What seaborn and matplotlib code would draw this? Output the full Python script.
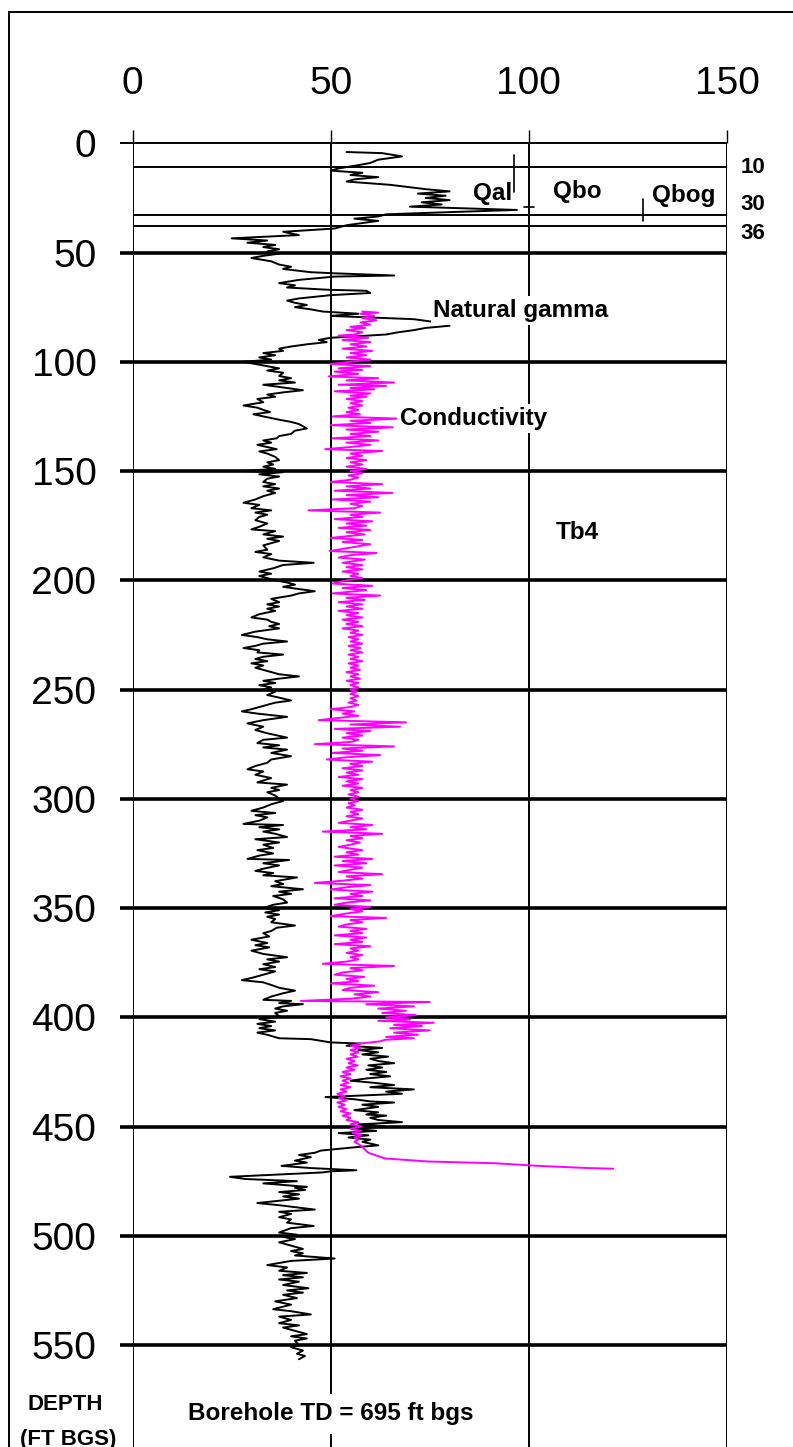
import matplotlib
matplotlib.use("Agg")
import matplotlib.pyplot as plt
from matplotlib.lines import Line2D
import seaborn as sns
import pandas as pd

# ---------------- data ----------------
# natural gamma log: (depth ft bgs, value)
gamma_log = [
    (4.0, 54), (4.5, 63), (6, 68), (7.5, 62), (9, 60), (10, 57), (11.5, 52), (12.5, 50),
    (13.5, 58), (14.5, 55), (15.5, 62), (16.5, 56), (17.5, 54), (19, 65), (21, 74), (22, 80),
    (23, 72), (24, 79), (25, 74), (26, 80), (27, 73), (28, 78), (29, 70), (30.5, 97),
    (31.5, 80), (32.5, 64), (33.5, 62), (34.5, 56), (35.5, 62), (36.5, 58), (37.5, 54),
    (39, 51), (40.5, 38), (42, 42), (43.5, 25), (44.5, 34), (45.5, 29), (46.5, 36),
    (47.5, 33), (48.5, 37), (49.5, 34), (50.5, 37), (51.5, 33),
    (52.5, 30), (54, 35), (55.5, 37), (56.5, 40), (57.5, 38), (59, 45), (59.5, 51),
    (60.5, 66), (61, 51), (62.5, 42), (64, 37), (65, 41), (66, 39), (67, 49), (67.5, 59),
    (68.5, 60), (69.5, 50), (71, 42), (72, 39), (73, 41), (74, 44), (75, 41), (76, 45),
    (77, 48), (78, 57), (79, 50), (80.5, 71), (81.5, 75), (82.5, 79), (83.5, 80),
    (84.5, 74), (85.5, 71), (86.5, 67), (87.5, 64), (88.5, 55), (89, 50), (90, 47),
    (91, 49), (92, 44), (93, 40), (94, 37), (95, 38), (96, 33), (97, 36), (98, 32),
    (99, 35), (100, 28), (101, 31), (102, 34), (103, 37), (104, 34), (105, 38),
    (106.5, 37), (107.5, 40), (108.5, 37), (109.5, 41), (110.5, 33), (111.5, 37), (113, 43),
    (114, 38), (115, 34), (116, 36), (117, 31.5), (118.5, 33), (120, 28), (121, 31.5),
    (122, 33), (123, 34.7), (124, 30.5), (125, 33), (126.5, 37), (127.5, 40), (128.5, 42),
    (129.5, 43), (130.5, 44), (131.5, 41), (133, 40), (134, 37), (135, 36.4), (136, 33),
    (137, 35), (138, 31.5), (139, 34), (140, 36.4), (141, 32), (142, 34), (143.5, 36),
    (145, 37), (146, 34), (147, 35.5), (148, 33), (149, 36), (150, 28), (150.5, 38),
    (151.5, 32), (152.5, 37), (153.5, 34), (155, 33), (156, 36), (157, 33), (158, 37),
    (159, 34), (160, 36), (161.5, 33), (163, 31), (164.5, 28), (165.5, 32), (167, 30),
    (168, 35), (169, 31), (170, 34), (171, 32),
    (172.5, 31), (174, 34), (175.5, 32), (176.7, 30), (177.5, 36), (179, 33), (180, 38),
    (181, 34), (182, 37), (184, 33), (186, 34), (187, 31), (188, 35), (189.5, 33), (191, 37),
    (192, 45.7), (193, 38), (194.5, 35.5), (196, 32), (197, 35), (198, 32), (199, 34),
    (200, 36), (201, 39), (202, 41), (203, 38), (204, 42), (205, 46), (206, 42), (207, 40),
    (208.5, 35), (210, 37), (211, 34), (212, 37), (213, 34), (214, 36), (215.5, 32),
    (217, 30), (218, 34), (219, 35), (220, 37), (221, 34.5), (222, 37), (223.5, 31),
    (225, 27.6), (226, 31.5), (227, 34), (228, 39), (229, 33), (230, 31), (231, 28),
    (232, 32), (233, 31.5), (234, 38), (235, 33), (236, 31), (237, 34), (238, 30), (239, 33),
    (240, 31), (241.5, 34), (243, 37), (244, 42), (245, 37), (246, 33), (247, 36), (248, 32),
    (249, 35), (250, 33), (251, 36), (252.5, 34), (253.7, 37), (255, 40), (256, 36),
    (257.5, 33), (259, 30), (260, 27.6), (261, 31.5), (262.5, 39), (264, 33), (265.5, 29),
    (267, 33), (268.5, 31), (270, 34), (272, 39), (273, 33), (274.5, 31.5), (275.5, 37),
    (276.5, 33), (277.5, 39), (279, 35), (280.5, 40), (282, 35), (283.5, 34), (285, 31),
    (286.5, 29), (287.5, 33), (289, 31), (290.5, 35), (292.5, 31.5), (293.5, 39), (295, 35),
    (296, 37), (297, 34), (298.5, 36), (300, 37),
    (301, 38), (302.5, 35), (304, 33), (305.5, 30), (306.5, 36), (307.5, 31), (308.5, 34),
    (310, 32), (311.5, 28), (312, 38), (313, 32), (314, 37), (315, 33), (316, 36),
    (317.5, 39), (318.5, 31), (320, 37), (321, 33), (322.5, 35.5), (323.5, 31.5),
    (325, 35.5), (326, 32), (327.5, 29), (328, 39.5), (329.5, 33), (330.5, 37), (332, 33),
    (333, 31), (334, 35.5), (335, 33), (336, 41.5), (337.7, 36), (339, 38), (340, 35),
    (341.4, 43), (342.5, 37), (343.5, 40), (344.5, 35.5), (346, 38), (347.5, 39),
    (348.5, 35.5), (350, 33), (351, 37), (352, 33.5), (353, 37), (354, 34), (355, 36),
    (356.5, 35), (358, 41), (359, 36.4), (360.5, 35), (361.5, 33), (363, 34.5), (364.5, 30),
    (366, 34), (367, 31), (368, 34.5), (369.5, 30), (371, 33), (372.5, 39), (373.5, 34),
    (374.5, 37), (375.7, 33), (377, 36), (378, 32), (379, 36), (380.5, 33), (382, 30),
    (383, 27.6), (384, 33), (385.5, 35.5), (386.5, 37), (387.8, 41), (389, 38), (390.5, 35),
    (392, 33), (392.5, 40), (393.5, 37), (394, 43), (395, 38), (396, 36), (397, 39),
    (398, 36), (399.5, 37), (400.8, 32), (402, 36), (403, 31.5), (404, 35), (405, 32),
    (406, 36), (407, 31.5), (408, 34), (409.6, 37), (410, 45), (411.5, 50),
    (412, 57.5), (413, 54), (414, 63), (415, 57), (416, 62), (417, 58), (418, 64.5),
    (419, 60), (420, 62), (421, 66), (422, 59.5), (423, 63), (424, 59), (425, 64), (426, 60),
    (427, 65), (428, 59), (429, 55), (430, 61), (431, 66), (432, 60), (433, 71), (434, 64),
    (435, 68), (436.5, 48.7), (437.5, 56), (438.5, 60), (439, 66), (440, 58), (441, 62),
    (442.5, 56), (443.5, 62), (444.5, 59), (445, 64), (446, 60), (447, 62), (448, 68),
    (449, 57), (450, 64), (451, 56), (452, 61.5), (453, 52), (454, 59.5), (455, 54.5),
    (456, 60), (457, 58), (458.6, 62), (459.5, 56), (461, 47.5), (462, 46), (463, 42),
    (464, 45), (465.6, 41), (466.5, 44), (468, 37.6), (469, 45), (470, 56.5), (470.5, 50),
    (471, 48), (473, 24.6), (474, 28.4), (475, 41.5), (476, 33), (477.6, 44), (478, 41),
    (479, 43.6), (480, 37), (481, 42), (482, 38), (483, 42), (485, 31.5), (486, 37),
    (488, 46), (489, 37), (490, 40), (491.5, 37), (492.5, 40), (494, 39), (495.5, 45.7),
    (496.5, 40), (498.5, 37), (499.5, 41.5), (500.5, 38), (501.5, 41), (503, 37),
    (504.5, 40), (506, 43), (507, 40), (508, 43), (509, 41), (510.4, 51), (511.5, 40),
    (513.4, 34), (514.5, 39), (516, 37), (517, 44), (518, 38), (519, 43), (520, 37),
    (521, 42), (522.5, 38), (524, 44.4), (525, 39), (526, 43), (527, 38), (528.5, 41.5),
    (530, 36), (531.5, 40), (533.6, 35.5), (534.5, 40), (536, 45), (537, 37), (538.5, 40),
    (540, 37), (541, 42), (542, 38), (543.5, 41), (545, 44), (546, 40), (547, 44),
    (548, 41), (550, 42), (551, 40), (552.5, 43), (554, 41.5), (555, 43.5), (556.5, 42),
]

# conductivity log: (depth ft bgs, value)
conductivity_log = [
    (77, 58), (77.5, 62), (78, 57.5), (79, 61), (80, 58), (81, 61.6), (82, 57.5), (83, 60),
    (84, 55), (84.5, 58.7), (85.5, 54), (86.5, 58), (87.5, 56), (88, 52), (89, 59.5),
    (90, 53), (91, 60), (92, 55), (93, 59), (94, 53), (95, 60.5), (96, 55), (97, 59),
    (98, 54), (99, 60), (100, 55), (101, 50), (102, 60), (103, 52), (103.7, 58), (104.5, 51),
    (105.5, 57), (106.7, 49.5), (107.5, 62), (108.5, 54), (109.5, 66), (110.5, 52),
    (111, 64), (112, 55), (112.6, 61), (113.5, 51), (114.5, 60), (115.5, 55), (116, 59),
    (117, 54), (118, 58), (119, 55), (120, 58), (121, 54.5), (122, 57), (123, 54),
    (124, 57.4), (125, 50.5), (126, 67), (127, 55), (128, 60), (129, 50), (130, 65.7),
    (131, 54), (132, 62), (133, 55), (134, 60), (135, 50.5), (136, 62), (137, 54), (138, 60),
    (139, 55), (140, 48.6), (140.8, 63), (142, 55), (143, 58), (144, 54), (145, 59),
    (146, 55), (147, 58), (148, 54), (149, 59), (150, 55), (151, 58), (152, 54.5), (153, 57),
    (154, 55), (155, 50), (156, 63), (157, 54), (158, 60), (159, 51), (160, 65.6), (161, 54),
    (162, 62), (163, 50.5), (164, 60), (165, 55), (166, 58), (167, 56), (168, 44.4),
    (169, 62.5), (170, 55), (171, 58), (172, 51), (173, 60.5), (174, 54), (175, 59),
    (176, 52), (177, 60), (178, 54), (179, 58.6), (180.6, 50), (181.5, 58), (182.5, 53),
    (183.5, 60), (185, 55), (186.6, 49.8), (187.5, 61.6), (188.5, 55), (189.6, 52),
    (190.5, 58.6), (192, 53), (193, 58), (194, 54), (195, 58), (196, 53), (197, 57),
    (198, 55), (199, 58), (200, 54), (201.5, 50.5), (202.5, 60.5), (203.5, 53), (204.5, 59),
    (206, 50.5), (207, 62.5), (208, 54), (209, 58.6), (210, 52), (211, 58), (212, 54),
    (213, 58), (214, 52), (215, 57), (216, 54), (217, 58), (218, 53), (219, 57), (220, 54),
    (221, 58), (222, 53), (223, 57), (224, 55), (225, 58), (226, 54.5), (227, 57), (228, 55),
    (229, 58), (230, 54.5), (231, 57.5), (232, 55), (233, 58), (234, 54.5), (235, 57),
    (236, 55), (237, 58), (238, 54.5), (239, 57), (240, 55), (241, 57.4), (242, 54),
    (243, 57), (244, 55), (245, 57.4), (246, 54), (247, 57), (248, 55), (249, 57), (250, 55),
    (251, 56.5), (252, 55), (253, 57), (254, 55), (255, 56.5), (256, 54.5), (257, 57),
    (258, 55), (259, 50), (260, 56), (261, 53), (262, 57), (263, 52), (264, 47), (265, 69),
    (266, 55), (267, 67.5), (268, 51), (269, 60), (270, 54), (271, 58), (272, 53), (273, 57),
    (274, 55), (275, 46), (276, 66), (277, 53), (278, 58), (279, 50.5), (280, 62.5),
    (281, 54), (282, 49), (283, 60.5), (284, 55), (285, 58), (286, 53), (287, 58), (288, 54),
    (289, 57), (290, 52), (291, 58), (292, 54), (293, 57), (294, 53), (295, 58), (296, 55),
    (297, 57), (298, 54.5), (299, 57), (300, 55), (301, 57), (302, 54.5), (303, 56),
    (304, 54), (305, 58), (306, 55), (307, 57), (308, 54), (309, 58), (310, 55), (311, 52),
    (312, 60.5), (313, 55), (314, 59), (315, 48), (316, 63), (317, 55), (318, 58), (319, 54),
    (320, 57.4), (321, 55), (322, 52), (323.5, 58), (324.5, 54), (325.5, 57), (326.5, 51),
    (327.5, 60.5), (328.5, 53), (329.5, 59), (330.5, 51), (331.5, 58), (332.5, 55),
    (333.5, 52), (334.5, 63), (335.5, 54), (336.5, 58), (337.5, 53), (338.5, 46),
    (339.5, 60), (340.5, 54), (341.5, 50), (342.5, 60.5), (343.5, 55), (344.5, 58),
    (345.5, 51), (346.5, 60), (347.5, 54), (348.5, 51), (349.5, 60), (350.5, 55),
    (351.5, 58), (352.5, 54), (353.7, 50), (354.5, 64), (355.5, 55), (356.5, 58),
    (357.5, 54), (358.5, 52), (359.5, 59), (360.5, 55), (361.5, 58), (362.5, 51),
    (363.5, 59), (364.5, 55), (365.5, 58), (366.5, 51), (367.5, 60), (368.5, 55),
    (369.5, 57), (370.5, 54), (371.5, 58), (372.5, 55), (373.5, 57), (374.5, 54),
    (375.5, 48), (376.5, 66), (377.5, 55), (378.5, 58), (379.5, 53), (380.5, 51),
    (381.5, 58.5), (382.5, 54), (383.5, 57), (384.5, 50), (385.5, 61), (386.5, 55),
    (387.5, 53), (388.5, 62), (389.5, 56), (390.5, 60), (391.5, 55), (392.5, 42.5),
    (393, 75), (394, 59), (395, 71), (396, 62), (397, 69), (398, 63), (399, 71.5), (400, 64),
    (401, 70), (401.6, 62), (402.5, 76), (403.5, 66), (404, 73), (405, 65), (406, 75),
    (407, 66), (408, 72), (409, 64), (409.6, 71), (410.3, 63.7), (411, 62.5), (412, 57.5),
    (413, 55), (414, 57.5), (415, 55), (416, 57), (417, 55), (418, 56.8), (419, 54),
    (420, 56), (421, 54.5), (422, 56.8), (423, 54), (424, 56), (425, 53), (426, 55),
    (427, 52.5), (428, 55), (429, 53), (430, 54.5), (431, 52.5), (432, 55), (433, 52.5),
    (434, 54), (435, 51.7), (436, 53.5), (437, 52), (438, 54), (439, 51.7), (440, 53.5),
    (441, 52), (442, 54), (443, 52.5), (444, 55), (445, 53), (446, 55), (447, 54), (448, 57),
    (449, 55), (450, 57.8), (451, 55), (452, 57.5), (453, 55.5), (454, 57.8), (455, 56),
    (456, 57), (457, 56), (458, 57), (459, 57.8), (462, 59.5), (464.6, 63.7), (466, 74.7),
    (466.8, 91.5), (468, 102.4), (469, 115), (469.3, 121.3),
]

x_ticks = [0, 50, 100, 150]
depth_ticks = [0, 50, 100, 150, 200, 250, 300, 350, 400, 450, 500, 550]
contact_depths = [11, 33, 38]          # drawn positions of the thin contact lines
contact_labels = ["10", "30", "36"]
unit_labels = ["Qal", "Qbo", "Qbog", "Tb4"]

# ---------------- frame ----------------
df = pd.concat([
    pd.DataFrame(gamma_log, columns=["depth", "value"]).assign(log="Natural gamma"),
    pd.DataFrame(conductivity_log, columns=["depth", "value"]).assign(log="Conductivity"),
], ignore_index=True)

sns.set_theme(style="white")
plt.rcParams["font.family"] = ["Liberation Sans", "DejaVu Sans"]

W, H = 793, 1447
fig = plt.figure(figsize=(W / 100, H / 100), dpi=100)
fig.patch.set_facecolor("white")

x0_px, x150_px = 132.5, 727.0
y0_px = 143.3
px_per_ft = 2.185
ax = fig.add_axes([x0_px / W, 0, (x150_px - x0_px) / W, (H - y0_px) / H])
ymax = (H - y0_px) / px_per_ft
ax.set_xlim(0, 150)
ax.set_ylim(ymax, 0)
ax.set_facecolor("white")
for s in ax.spines.values():
    s.set_visible(False)

px_x = 150 / (x150_px - x0_px)  # data units per pixel horizontally

# grid: vertical lines
for xv in x_ticks:
    ax.axvline(xv, color="black", lw=1.4, zorder=1)
# horizontal depth lines
for d in depth_ticks:
    lw = 1.4 if d == 0 else 2.6
    ax.plot([-13 * px_x, 150], [d, d], color="black", lw=lw, clip_on=False,
            solid_capstyle="butt", zorder=1)
for d in contact_depths:
    ax.plot([0, 150], [d, d], color="black", lw=1.4, zorder=1)

# logs
sns.lineplot(data=df, x="value", y="depth", hue="log",
             hue_order=["Natural gamma", "Conductivity"],
             palette={"Natural gamma": "black", "Conductivity": "#ff00ff"},
             sort=False, estimator=None, orient="y", legend=False,
             linewidth=1.4, ax=ax, zorder=3)

# contact markers
ax.plot([96.3, 96.3], [5.4, 22.3], color="black", lw=1.2, zorder=2)
ax.plot([98.8, 101.3], [29.2, 29.2], color="black", lw=1.2, zorder=2)
ax.plot([128.7, 128.7], [25.5, 35.6], color="black", lw=1.2, zorder=2)

# ticks
ax.set_xticks(x_ticks)
ax.set_yticks(depth_ticks)
ax.xaxis.tick_top()
ax.tick_params(axis="x", top=True, bottom=False, direction="out", length=9.4,
               width=1.0, pad=20, labelsize=28, colors="black")
ax.tick_params(axis="y", left=True, length=0, pad=26, labelsize=28, colors="black")
ax.set_xlabel("")
ax.set_ylabel("")

# annotations
bold = dict(fontweight="bold", fontsize=17.5, color="black")
small = dict(fontweight="bold", fontsize=16, color="black")
white = dict(facecolor="white", edgecolor="none", pad=2)
ax.text(75.9, 76.5, "Natural gamma", ha="left", va="center", bbox=white, zorder=5, **bold)
ax.text(67.5, 126, "Conductivity", ha="left", va="center", bbox=white, zorder=5, **bold)
ax.text(112.3, 178, unit_labels[3], ha="center", va="center", **bold)
ax.text(86, 23, unit_labels[0], ha="left", va="center", **bold)
ax.text(106.2, 22, unit_labels[1], ha="left", va="center", **bold)
ax.text(131, 24, unit_labels[2], ha="left", va="center", **bold)
for lab, yy in zip(contact_labels, [11, 28, 41.5]):
    ax.text(153.4, yy, lab, ha="left", va="center", clip_on=False, **small)
ax.text(-17.0, 577, "DEPTH", ha="center", va="center", clip_on=False, **small)
ax.text(-16.3, 593, "(FT BGS)", ha="center", va="center", clip_on=False, **small)
ax.text(49.9, 581.5, "Borehole TD = 695 ft bgs", ha="center", va="center",
        bbox=dict(facecolor="white", edgecolor="none", pad=6), zorder=5, **bold)

# outer frame (left and top)
fx = 8.5 / W
fy = 1 - 11.5 / H
fig.add_artist(Line2D([fx, fx], [0, fy], transform=fig.transFigure, color="black", lw=1.4))
fig.add_artist(Line2D([fx, 1], [fy, fy], transform=fig.transFigure, color="black", lw=1.4))

fig.savefig("out.png", dpi=100, facecolor="white")
